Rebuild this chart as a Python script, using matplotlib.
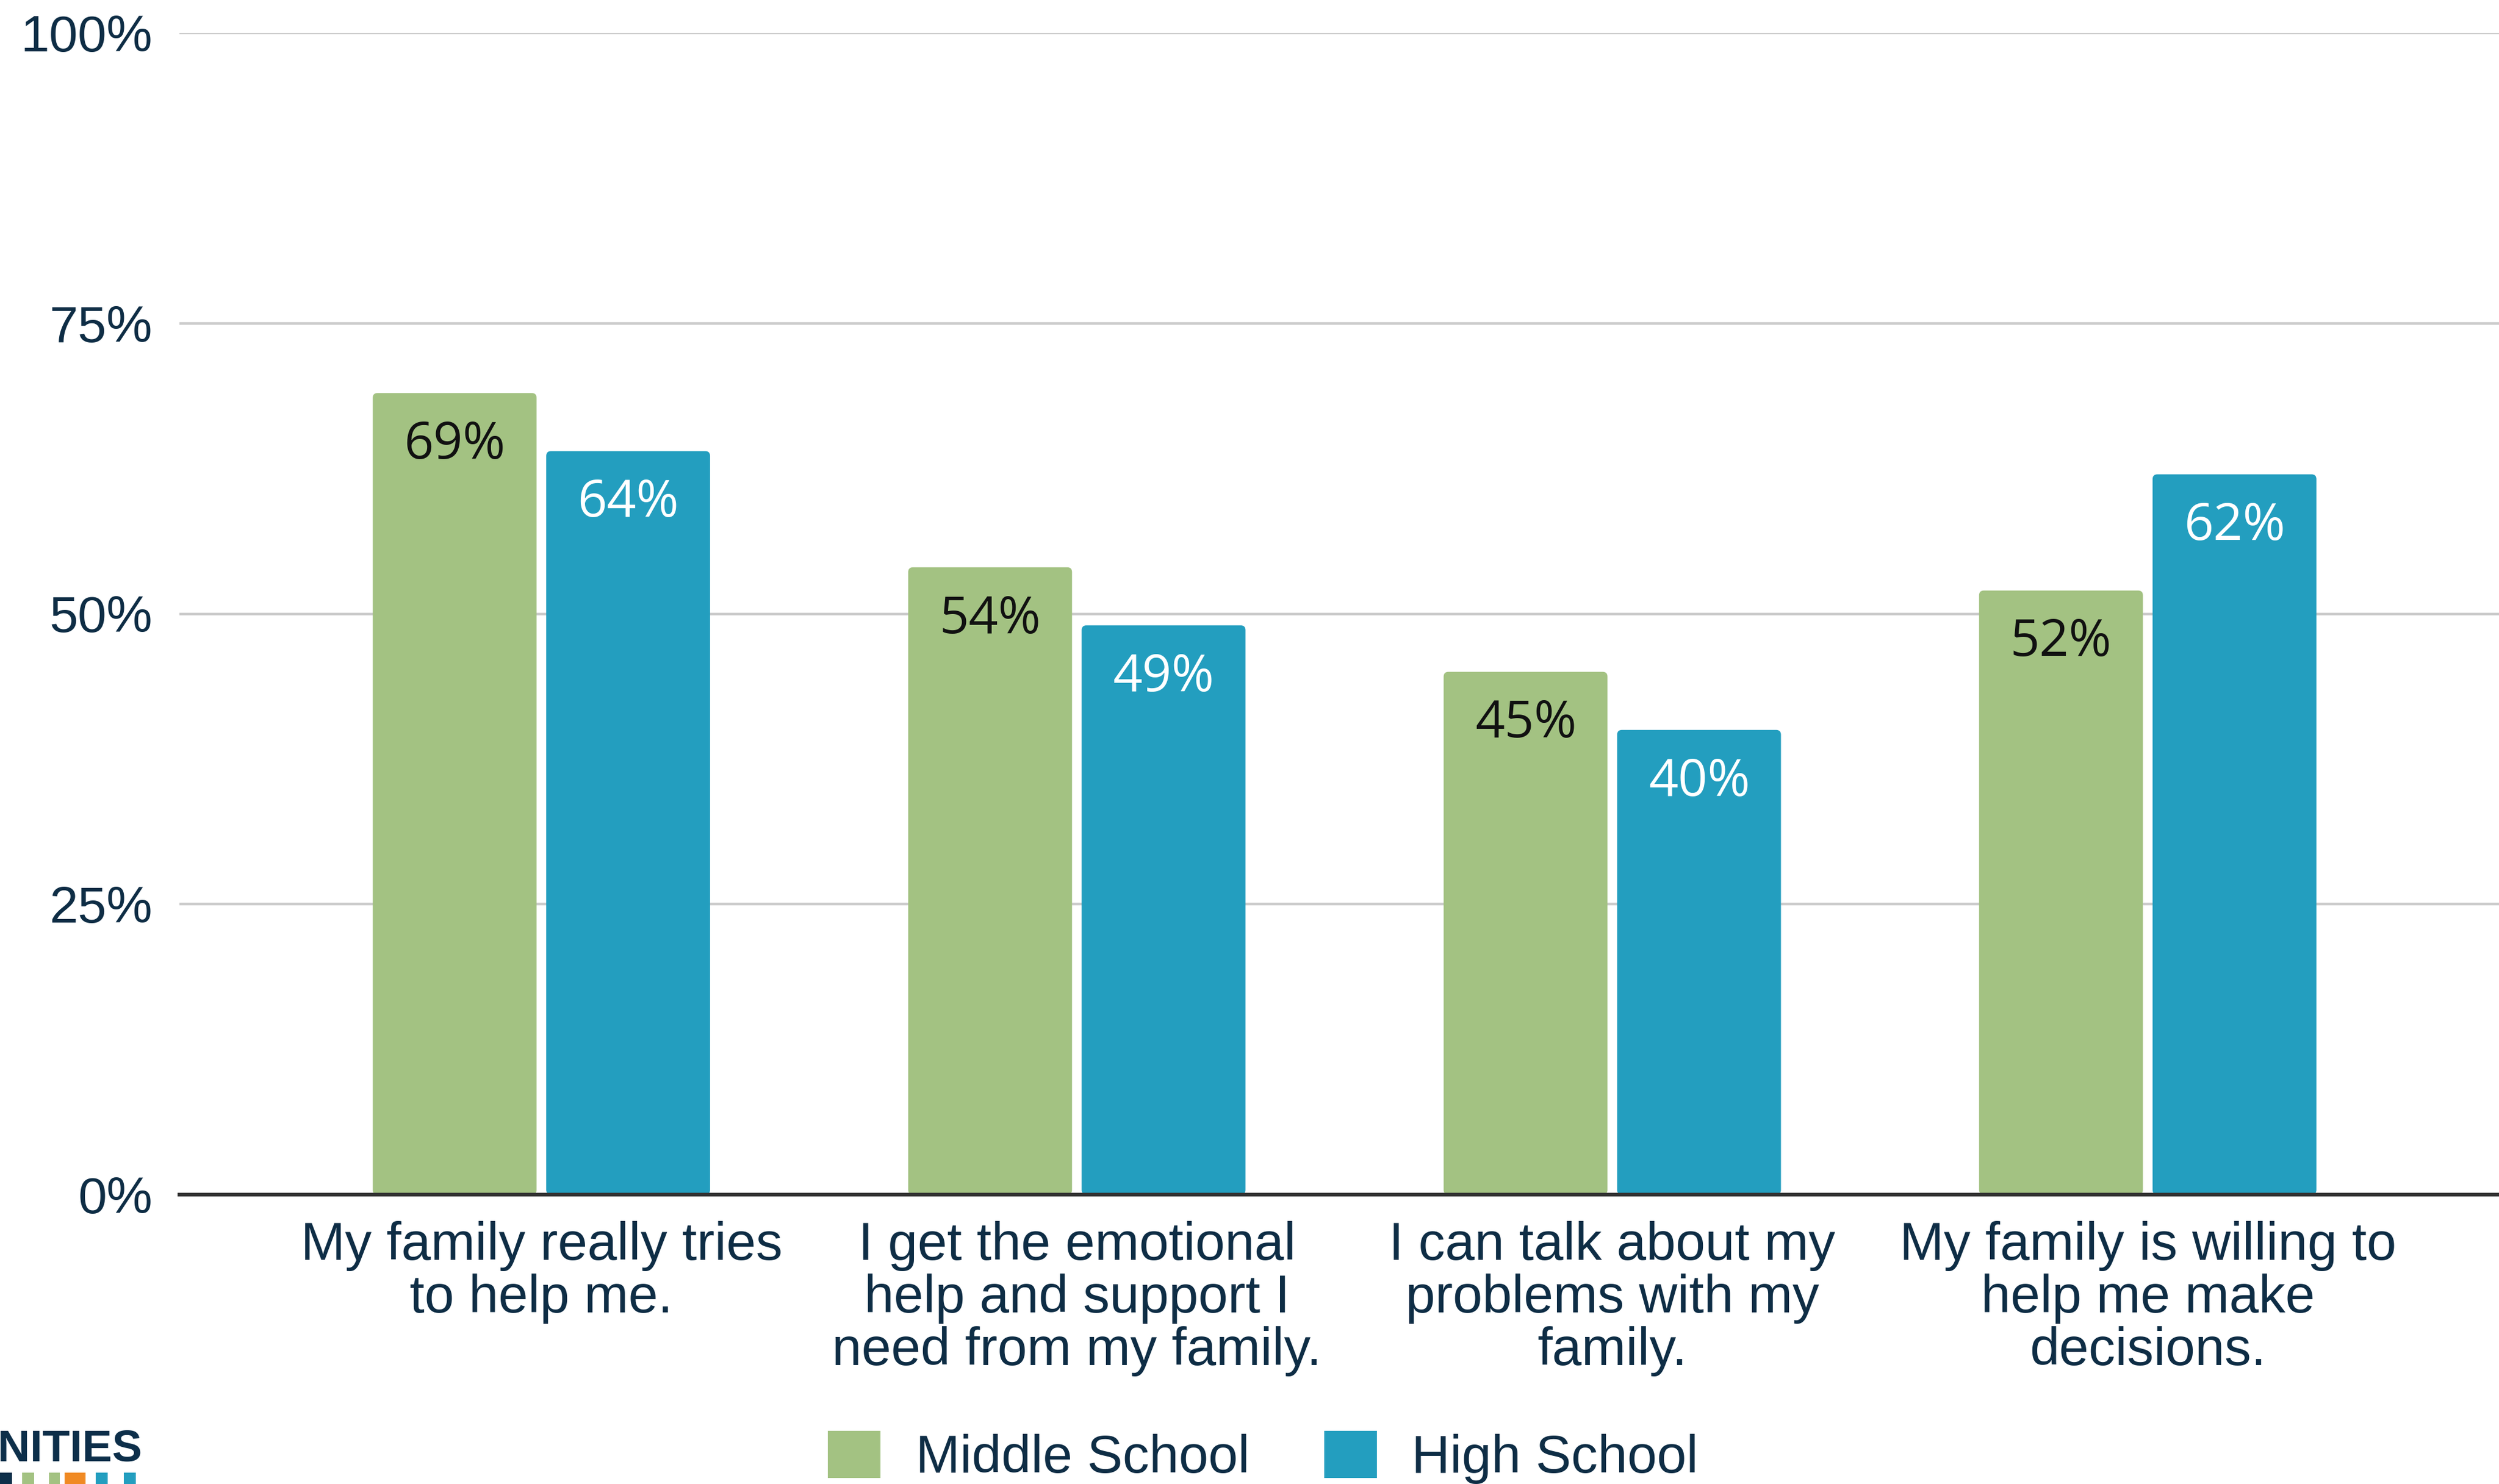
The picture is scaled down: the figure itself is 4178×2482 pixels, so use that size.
import matplotlib
matplotlib.use("Agg")
import matplotlib.pyplot as plt
from matplotlib.patches import Patch, Rectangle, FancyBboxPatch
import numpy as np

# Survey items and the share of students agreeing, by school level
categories = [
    "My family really tries\nto help me.",
    "I get the emotional\nhelp and support I\nneed from my family.",
    "I can talk about my\nproblems with my\nfamily.",
    "My family is willing to\nhelp me make\ndecisions.",
]
middle_school = [69, 54, 45, 52]
high_school = [64, 49, 40, 62]
series_names = ["Middle School", "High School"]
y_ticks = [0, 25, 50, 75, 100]
y_tick_labels = ["0%", "25%", "50%", "75%", "100%"]

GREEN = "#a3c282"
BLUE = "#239ebf"
NAVY = "#0e2d45"
GRID = "#cbcbcb"

W, H, DPI = 4178, 2482, 100
fig = plt.figure(figsize=(W / DPI, H / DPI), dpi=DPI, facecolor="white")
ax = fig.add_axes([300 / W, 1 - 1998 / H, 1 - 300 / W, (1998 - 55) / H])

x = np.arange(len(categories))
bar_w = 0.306
offset = 0.162
xlim = (-0.676, 3.656)
ylim = (0, 100)
ax.set_xlim(*xlim)
ax.set_ylim(*ylim)


def rounded_bars(bars):
    # swap each bar for a rectangle with softly rounded corners
    ax_w = W * (1 - 300 / W)
    ax_h = 1998 - 55
    px_per_x = ax_w / (xlim[1] - xlim[0])
    px_per_y = ax_h / (ylim[1] - ylim[0])
    aspect = px_per_x / px_per_y
    r = 8 / px_per_x
    for b in bars:
        b.set_visible(False)
        fb = FancyBboxPatch((b.get_x(), b.get_y()), b.get_width(), b.get_height(),
                            boxstyle=f"round,pad=0,rounding_size={r}",
                            mutation_aspect=aspect, facecolor=b.get_facecolor(),
                            edgecolor="none", zorder=2)
        ax.add_patch(fb)


bars_ms = ax.bar(x - offset, middle_school, width=bar_w, color=GREEN, zorder=2)
bars_hs = ax.bar(x + offset, high_school, width=bar_w, color=BLUE, zorder=2)
rounded_bars(bars_ms)
rounded_bars(bars_hs)

label_font = dict(family=["Open Sans", "DejaVu Sans"], fontsize=62)
for xi, v in zip(x - offset, middle_school):
    ax.annotate(f"{v}%", xy=(xi, v), xytext=(0, -79), textcoords="offset points",
                ha="center", va="baseline", color="#111111", zorder=3, **label_font)
for xi, v in zip(x + offset, high_school):
    ax.annotate(f"{v}%", xy=(xi, v), xytext=(0, -79), textcoords="offset points",
                ha="center", va="baseline", color="white", zorder=3, **label_font)

ax.set_yticks(y_ticks)
ax.set_yticklabels(y_tick_labels)
ax.set_xticks(x)
ax.set_xticklabels(categories, linespacing=1.06, multialignment="center")

for lbl in ax.get_yticklabels():
    lbl.set_family(["Liberation Sans", "DejaVu Sans"])
    lbl.set_fontsize(62)
    lbl.set_color(NAVY)
for lbl in ax.get_xticklabels():
    lbl.set_family(["Liberation Sans", "DejaVu Sans"])
    lbl.set_fontsize(64)
    lbl.set_color(NAVY)

ax.tick_params(axis="y", length=0, pad=32)
ax.tick_params(axis="x", length=0, pad=32)

ax.yaxis.grid(True, color=GRID, linewidth=3.2)
ax.set_axisbelow(True)
for s in ax.spines.values():
    s.set_visible(False)
ax.axhline(0, color="#333333", linewidth=4.5, zorder=4, clip_on=False)

handles = [Patch(facecolor=GREEN, edgecolor="none"), Patch(facecolor=BLUE, edgecolor="none")]
leg = fig.legend(handles, series_names, loc="center", bbox_to_anchor=(0.5055, 0.018),
                 frameon=False, ncol=2, handlelength=0.99, handleheight=0.99,
                 handletextpad=0.66, columnspacing=1.4, borderpad=0,
                 prop={"family": ["Liberation Sans", "DejaVu Sans"], "size": 64})
for t in leg.get_texts():
    t.set_color(NAVY)

# Partial organisation logo in the lower-left corner
fig.text(-0.001, 1 - 2443 / H, "NITIES", fontsize=54, fontweight="bold",
         family=["Liberation Sans", "DejaVu Sans"], color="#0d2f4a",
         ha="left", va="baseline")
logo_blocks = [(0, 20, "#0d2f4a"), (37, 57, GREEN), (82, 100, GREEN),
               (108, 143, "#f08a24"), (160, 180, BLUE), (207, 227, BLUE)]
for x0, x1, c in logo_blocks:
    fig.patches.append(Rectangle((x0 / W, 0), (x1 - x0) / W, (H - 2463) / H,
                                 transform=fig.transFigure, facecolor=c,
                                 edgecolor="none"))

fig.savefig("out.png", dpi=DPI, facecolor="white")
